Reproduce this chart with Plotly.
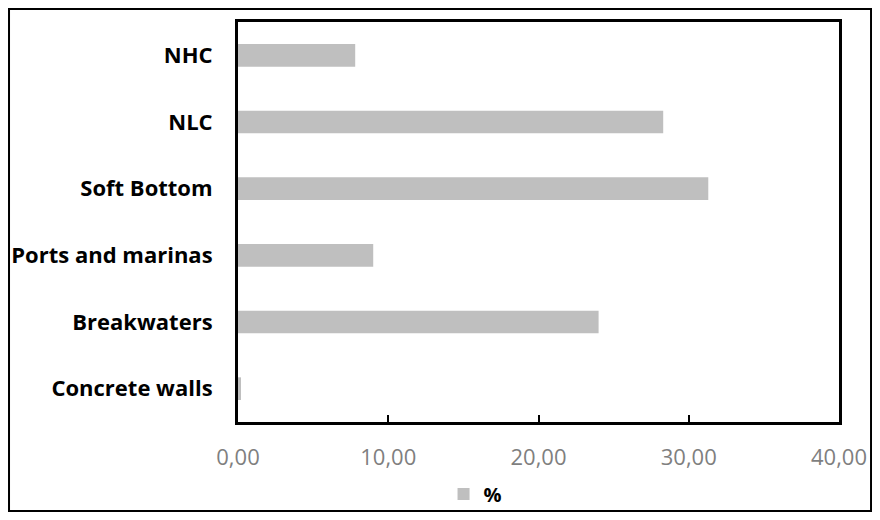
import plotly.graph_objects as go

categories = ["Concrete walls", "Breakwaters", "Ports and marinas", "Soft Bottom", "NLC", "NHC"]
values = [0.2, 24.0, 9.0, 31.3, 28.3, 7.8]
tick_vals = [0, 10, 20, 30, 40]

fig = go.Figure()
fig.add_trace(go.Bar(
    y=categories, x=values, orientation="h", name="%",
    marker=dict(color="#bfbfbf", line=dict(width=0)),
    width=0.34, showlegend=True,
))

fig.update_layout(
    width=864, height=504,
    margin=dict(l=230, r=33, t=14, b=90, autoexpand=False),
    paper_bgcolor="white", plot_bgcolor="white",
    separators=",.",
    font=dict(family="Open Sans", color="black"),
    legend=dict(orientation="h", x=0.342, xanchor="left", y=-0.18, yanchor="middle",
                font=dict(size=20, color="black", family="Open Sans", weight="bold"),
                traceorder="normal", bgcolor="rgba(0,0,0,0)"),
    xaxis=dict(range=[0, 40], tickvals=tick_vals, tickformat=".2f",
               showgrid=False, zeroline=False, automargin=False,
               showline=True, linecolor="black", linewidth=3, mirror=True,
               ticks="inside", ticklen=7, tickwidth=2, tickcolor="black",
               ticklabelstandoff=14,
               tickfont=dict(size=22, color="#7f7f7f", family="Open Sans")),
    yaxis=dict(showgrid=False, zeroline=False, automargin=False,
               showline=True, linecolor="black", linewidth=3, mirror=True,
               ticks="", ticklabelstandoff=18,
               tickfont=dict(size=22, color="black", family="Open Sans", weight="bold")),
    shapes=[dict(type="rect", xref="paper", yref="paper",
                 x0=-0.381, x1=1.0533, y0=-0.2225, y1=1.0325,
                 line=dict(color="black", width=2), fillcolor="rgba(0,0,0,0)")],
)

fig.write_html("out.html")
